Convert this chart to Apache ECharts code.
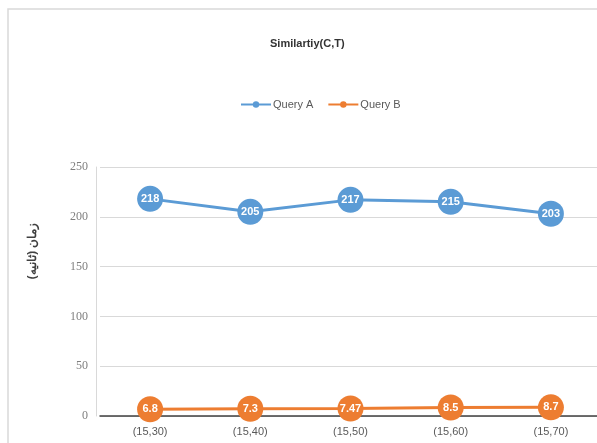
<!DOCTYPE html>
<html>
<head>
  <meta charset="UTF-8" />
  <title>Similartiy(C,T)</title>
  <script src="https://cdn.jsdelivr.net/npm/echarts@6/dist/echarts.min.js"></script>
  <style>
    html, body { margin: 0; padding: 0; background: #fff; }
    #main { width: 597px; height: 443px; }
  </style>
</head>
<body>
  <div id="main"></div>
  <script>
    const categories = ['(15,30)', '(15,40)', '(15,50)', '(15,60)', '(15,70)'];
    const queryA = [218, 205, 217, 215, 203];
    const queryB = [6.8, 7.3, 7.47, 8.5, 8.7];
    const seriesNames = ['Query A', 'Query B'];
    const colors = ['#5b9bd5', '#ed7d31'];

    const chart = echarts.init(document.getElementById('main'));

    function makeSeries(name, data, color) {
      return {
        name: name,
        type: 'line',
        data: data,
        symbol: 'circle',
        symbolSize: 26,
        lineStyle: { color: color, width: 3 },
        itemStyle: { color: color },
        label: {
          show: true,
          position: 'inside',
          color: '#fff',
          fontWeight: 'bold',
          fontSize: 11,
          fontFamily: 'Liberation Sans'
        }
      };
    }

    chart.setOption({
      animation: false,
      title: {
        text: 'Similartiy(C,T)',
        left: 270,
        top: 38,
        padding: 0,
        textStyle: { fontSize: 11, fontWeight: 'bold', color: '#333', fontFamily: 'Liberation Sans' }
      },
      legend: {
        top: 99,
        left: 240,
        padding: 0,
        itemWidth: 30,
        itemHeight: 8,
        itemGap: 14,
        data: seriesNames,
        textStyle: { fontSize: 11, color: '#595959', fontFamily: 'Liberation Sans', padding: [0, 0, 0, -3] }
      },
      graphic: [
        {
          type: 'rect',
          shape: { x: 8, y: 9, width: 700, height: 500 },
          style: { fill: 'none', stroke: '#d9d9d9', lineWidth: 1.5 },
          silent: true
        },
        {
          type: 'text',
          x: 33,
          y: 251,
          rotation: Math.PI / 2,
          style: {
            text: 'زمان (ثانیه)',
            fontSize: 12,
            fontWeight: 'bold',
            fill: '#404040',
            fontFamily: 'Noto Sans',
            align: 'center',
            verticalAlign: 'middle'
          }
        }
      ],
      grid: { left: 100, width: 501, top: 167, bottom: 27, outerBoundsMode: 'none' },
      xAxis: {
        type: 'category',
        data: categories,
        boundaryGap: true,
        axisLine: { lineStyle: { color: '#404040', width: 1.5 } },
        axisTick: { show: false },
        axisLabel: { color: '#595959', fontSize: 11, margin: 10, fontFamily: 'Liberation Sans' }
      },
      yAxis: {
        type: 'value',
        min: 0,
        max: 250,
        interval: 50,
        offset: 4,
        axisLine: { show: true, lineStyle: { color: '#d9d9d9' } },
        axisTick: { show: false },
        axisLabel: { color: '#7f7f7f', fontSize: 12, margin: 8, fontFamily: 'Liberation Serif' },
        splitLine: { lineStyle: { color: '#d9d9d9' } }
      },
      series: [
        makeSeries(seriesNames[0], queryA, colors[0]),
        makeSeries(seriesNames[1], queryB, colors[1])
      ]
    });
  </script>
</body>
</html>
